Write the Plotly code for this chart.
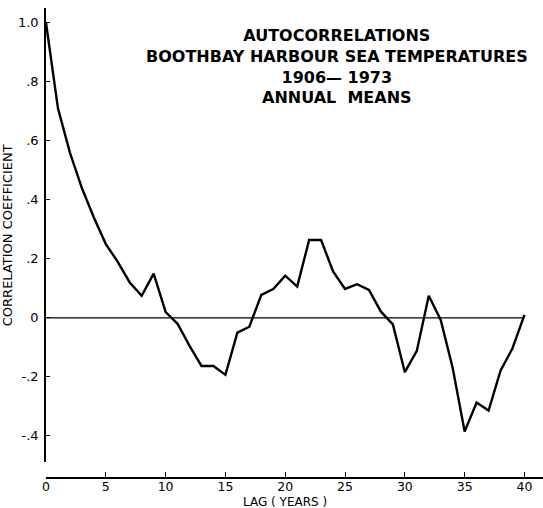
import plotly.graph_objects as go

lags = list(range(0, 41))
autocorr = [1.00, 0.71, 0.56, 0.44, 0.34, 0.25, 0.19, 0.12, 0.075, 0.15,
            0.02, -0.02, -0.095, -0.163, -0.163, -0.193, -0.05, -0.03, 0.078, 0.098,
            0.143, 0.106, 0.264, 0.264, 0.157, 0.098, 0.114, 0.095, 0.021, -0.022,
            -0.184, -0.112, 0.075, -0.007, -0.17, -0.385, -0.287, -0.314, -0.179, -0.103,
            0.01]

y_tickvals = [1.0, 0.8, 0.6, 0.4, 0.2, 0.0, -0.2, -0.4]
y_ticktext = ["1.0", ".8", ".6", ".4", ".2", "0", "-.2", "-.4"]
x_tickvals = [0, 5, 10, 15, 20, 25, 30, 35, 40]

title_lines = ["AUTOCORRELATIONS", "BOOTHBAY HARBOUR SEA TEMPERATURES",
               "1906\u2014 1973", "ANNUAL  MEANS"]

FONT = "DejaVu Sans"

fig = go.Figure()
fig.add_trace(go.Scatter(x=lags, y=autocorr, mode="lines",
                         line=dict(color="black", width=2.4),
                         showlegend=False, hoverinfo="skip"))

# zero reference line spanning the lag range
fig.add_shape(type="line", xref="x", yref="y",
              x0=lags[0], x1=lags[-1], y0=0, y1=0,
              line=dict(color="black", width=1.2), layer="below")

fig.update_layout(
    width=543, height=508,
    margin=dict(l=46, r=0, t=8, b=30, autoexpand=False),
    paper_bgcolor="white", plot_bgcolor="white",
    font=dict(family=FONT, color="black", size=13),
    showlegend=False,
    xaxis=dict(range=[0, 41.55], domain=[0, 1], anchor="free", position=0,
               automargin=False,
               showline=True, linecolor="black", linewidth=1.5,
               ticks="inside", ticklen=5, tickwidth=1.2, tickcolor="black",
               tickvals=x_tickvals, showgrid=False, zeroline=False,
               ticklabelstandoff=-3,
               tickfont=dict(size=12.5, family=FONT)),
    yaxis=dict(range=[-0.49, 1.05], domain=[0.033, 1],
               automargin=False,
               showline=True, linecolor="black", linewidth=1.5,
               ticks="inside", ticklen=4, tickwidth=1.2, tickcolor="black",
               tickvals=y_tickvals, ticktext=y_ticktext,
               showgrid=False, zeroline=False,
               ticklabelstandoff=3,
               tickfont=dict(size=13, family=FONT),
               title=dict(text="CORRELATION COEFFICIENT", standoff=6,
                          font=dict(size=13, family=FONT))),
)

fig.add_annotation(text="<br>".join(title_lines), xref="paper", yref="paper",
                   x=0.585, y=1, yshift=-16, xanchor="center", yanchor="top",
                   showarrow=False, align="center",
                   font=dict(size=16, family=FONT, color="black", weight="bold"))

fig.add_annotation(text="LAG ( YEARS )", xref="x", yref="paper",
                   x=20, y=0, yshift=-15, xanchor="center", yanchor="top",
                   showarrow=False, font=dict(size=12, family=FONT))

fig.write_html("out.html",
               config={"displayModeBar": False},
               post_script="document.body.style.margin='0';document.body.style.overflow='hidden';")
